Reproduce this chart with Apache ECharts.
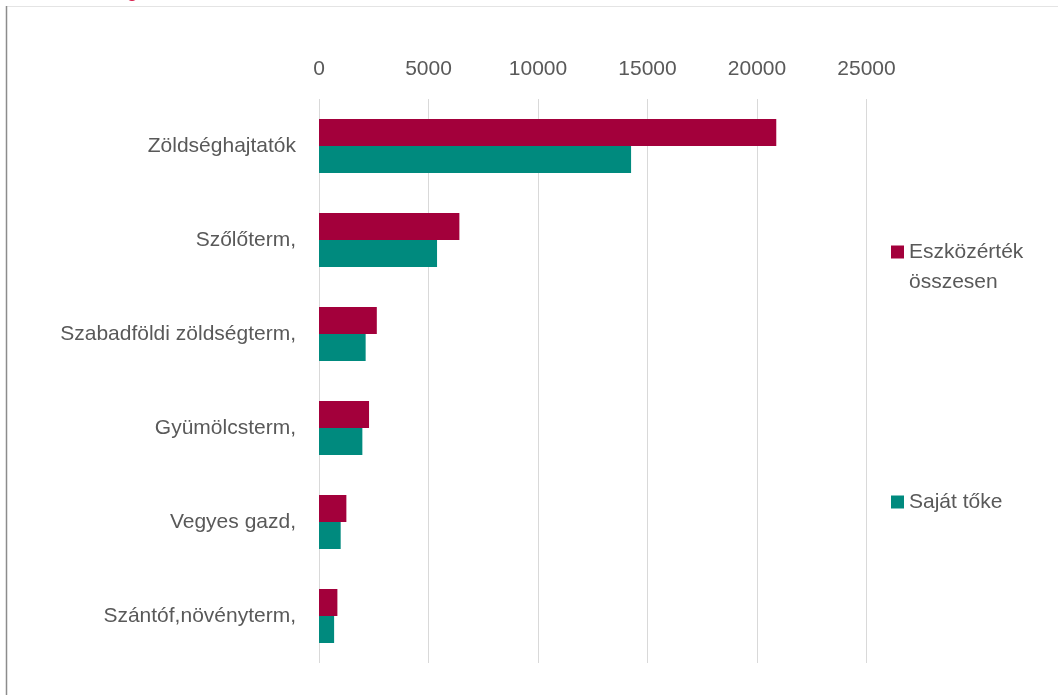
<!DOCTYPE html>
<html>
<head>
<meta charset="utf-8">
<script src="https://cdn.jsdelivr.net/npm/echarts@6/dist/echarts.min.js"></script>
<style>
html,body{margin:0;padding:0;background:#fff;}
#chart{width:1058px;height:695px;}
</style>
</head>
<body>
<div id="chart"></div>
<script>
var categories = ['Zöldséghajtatók', 'Szőlőterm,', 'Szabadföldi zöldségterm,', 'Gyümölcsterm,', 'Vegyes gazd,', 'Szántóf,növényterm,'];
var seriesNames = ['Eszközérték összesen', 'Saját tőke'];
var eszkozertek = [20880, 6410, 2640, 2285, 1250, 840];
var sajatToke = [14250, 5390, 2130, 1980, 990, 690];
var xTicks = [0, 5000, 10000, 15000, 20000, 25000];

var FONT = '"Liberation Sans", Arial, sans-serif';
var TXT = '#595959';
var chart = echarts.init(document.getElementById('chart'));
chart.setOption({
  animation: false,
  backgroundColor: '#fff',
  graphic: [
    { type: 'line', shape: { x1: 6, y1: 6.5, x2: 1058, y2: 6.5 }, style: { stroke: '#e4e4e4', lineWidth: 1 } },
    { type: 'line', shape: { x1: 6.5, y1: 6, x2: 6.5, y2: 695 }, style: { stroke: '#8c8c8c', lineWidth: 1.5 } },
    { type: 'circle', shape: { cx: 132, cy: -5, r: 6 }, style: { fill: '#d81b4a' } }
  ],
  grid: { left: 319, right: 191.5, top: 99, bottom: 32 },
  legend: [
    {
      data: [seriesNames[0]], orient: 'vertical', left: 891, top: 207, padding: 0,
      itemWidth: 13, itemHeight: 13, itemGap: 0, icon: 'rect',
      formatter: function () { return '\nEszközérték\nösszesen'; },
      textStyle: { fontFamily: FONT, fontSize: 21, color: TXT, lineHeight: 30 }
    },
    {
      data: [seriesNames[1]], orient: 'vertical', left: 891, top: 490, padding: 0,
      itemWidth: 13, itemHeight: 13, icon: 'rect',
      textStyle: { fontFamily: FONT, fontSize: 21, color: TXT, lineHeight: 24 }
    }
  ],
  xAxis: {
    type: 'value', position: 'top', min: xTicks[0], max: xTicks[xTicks.length - 1], interval: xTicks[1] - xTicks[0],
    axisLine: { show: false }, axisTick: { show: false },
    splitLine: { show: true, lineStyle: { color: '#d9d9d9', width: 1 } },
    axisLabel: { fontFamily: FONT, fontSize: 21, color: TXT, margin: 19, formatter: function (v) { return String(v); } }
  },
  yAxis: {
    type: 'category', data: categories, inverse: true,
    axisLine: { show: false }, axisTick: { show: false },
    axisLabel: { fontFamily: FONT, fontSize: 21, color: TXT, margin: 23 }
  },
  series: [
    { name: seriesNames[0], type: 'bar', data: eszkozertek, barWidth: 27, barGap: '0%', itemStyle: { color: '#a3003b' } },
    { name: seriesNames[1], type: 'bar', data: sajatToke, barWidth: 27, barGap: '0%', itemStyle: { color: '#008a7e' } }
  ]
});
</script>
</body>
</html>
